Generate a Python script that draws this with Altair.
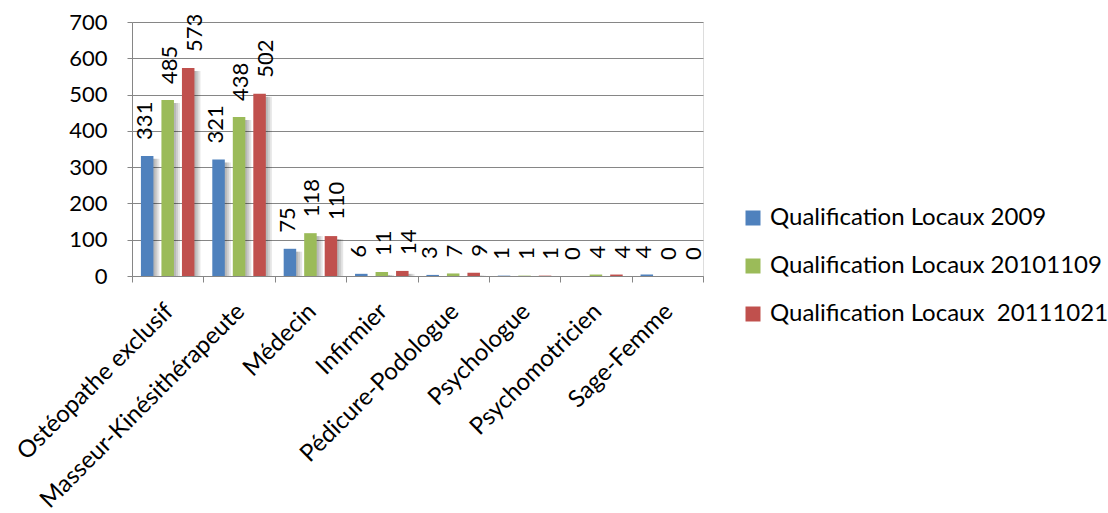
import altair as alt
import pandas as pd

# Professions on the x axis
categories = [
    "Ostéopathe exclusif",
    "Masseur-Kinésithérapeute",
    "Médecin",
    "Infirmier",
    "Pédicure-Podologue",
    "Psychologue",
    "Psychomotricien",
    "Sage-Femme",
]

# One series per qualification survey (the last name keeps its double space)
series = [
    "Qualification Locaux 2009",
    "Qualification Locaux 20101109",
    "Qualification Locaux\u00a0 20111021",
]
values_2009 = [331, 321, 75, 6, 3, 1, 0, 4]
values_2010 = [485, 438, 118, 11, 7, 1, 4, 0]
values_2011 = [573, 502, 110, 14, 9, 1, 4, 0]
colors = ["#4F81BD", "#9BBB59", "#C0504D"]
y_ticks = [0, 100, 200, 300, 400, 500, 600, 700]

rows = []
for name, vals in zip(series, [values_2009, values_2010, values_2011]):
    for cat, v in zip(categories, vals):
        rows.append({"cat": cat, "series": name, "value": v})
df = pd.DataFrame(rows)

FONT = "Lato"
GRID = "#868686"
INNER, OUTER = 0.39, 0.435

x = alt.X(
    "cat:N",
    sort=categories,
    scale=alt.Scale(paddingInner=0, paddingOuter=0),
    axis=alt.Axis(
        title=None,
        labelAngle=-45,
        labelAlign="right",
        labelBaseline="top",
        labelOffset=-7,
        labelPadding=17,
        labelFont=FONT,
        labelFontSize=24,
        labelColor="#000000",
        labelLimit=600,
        tickBand="extent",
        tickSize=6,
        tickColor=GRID,
        domainColor=GRID,
        grid=False,
        labelOverlap=False,
    ),
)


def offset(align=0.5):
    return alt.XOffset(
        "series:N",
        sort=series,
        scale=alt.Scale(paddingInner=INNER, paddingOuter=OUTER, align=align),
    )


y_scale = alt.Scale(domain=[0, 700], nice=False)
y_axis = alt.Axis(
    title=None,
    values=y_ticks,
    labelFont=FONT,
    labelFontSize=22,
    labelColor="#000000",
    labelPadding=20,
    tickSize=5,
    tickColor=GRID,
    domainColor=GRID,
    gridColor=GRID,
    gridWidth=1,
)
y = alt.Y("value:Q", scale=y_scale, axis=y_axis)

base = alt.Chart(df)

# Soft drop shadow: a few translucent copies nudged to the right of each bar
shadows = []
for align in (0.612, 0.724, 0.836):
    shadows.append(
        base.transform_calculate(top="max(datum.value - 8, 0)")
        .mark_bar(color="#000000", opacity=0.1)
        .encode(x=x, xOffset=offset(align), y=alt.Y("top:Q", scale=y_scale, axis=y_axis))
    )

bars = base.mark_bar().encode(
    x=x,
    xOffset=offset(),
    y=y,
    color=alt.Color(
        "series:N",
        sort=series,
        scale=alt.Scale(domain=series, range=colors),
        legend=alt.Legend(
            title=None,
            orient="none",
            legendX=609,
            legendY=184,
            symbolType="square",
            symbolSize=225,
            symbolStrokeWidth=0,
            symbolOpacity=1,
            labelFont=FONT,
            labelFontSize=24,
            labelColor="#000000",
            labelOffset=5,
            rowPadding=24,
            labelLimit=400,
        ),
    ),
)

labels = base.mark_text(
    angle=270,
    align="left",
    baseline="middle",
    dx=16,
    dy=2,
    font=FONT,
    fontSize=22,
    color="#000000",
).encode(
    x=x,
    xOffset=offset(),
    y=y,
    text=alt.Text("value:Q"),
)

chart = (
    alt.layer(*shadows, bars, labels)
    .resolve_scale(xOffset="independent")
    .properties(
        width=571,
        height=254,
        autosize=alt.AutoSizeParams(type="none"),
        padding={"left": 132, "top": 22, "right": 405, "bottom": 237},
    )
    .configure_view(stroke=None)
    .configure(background="#FFFFFF")
)

chart.save("out.html", embed_options={"renderer": "svg", "actions": False})
